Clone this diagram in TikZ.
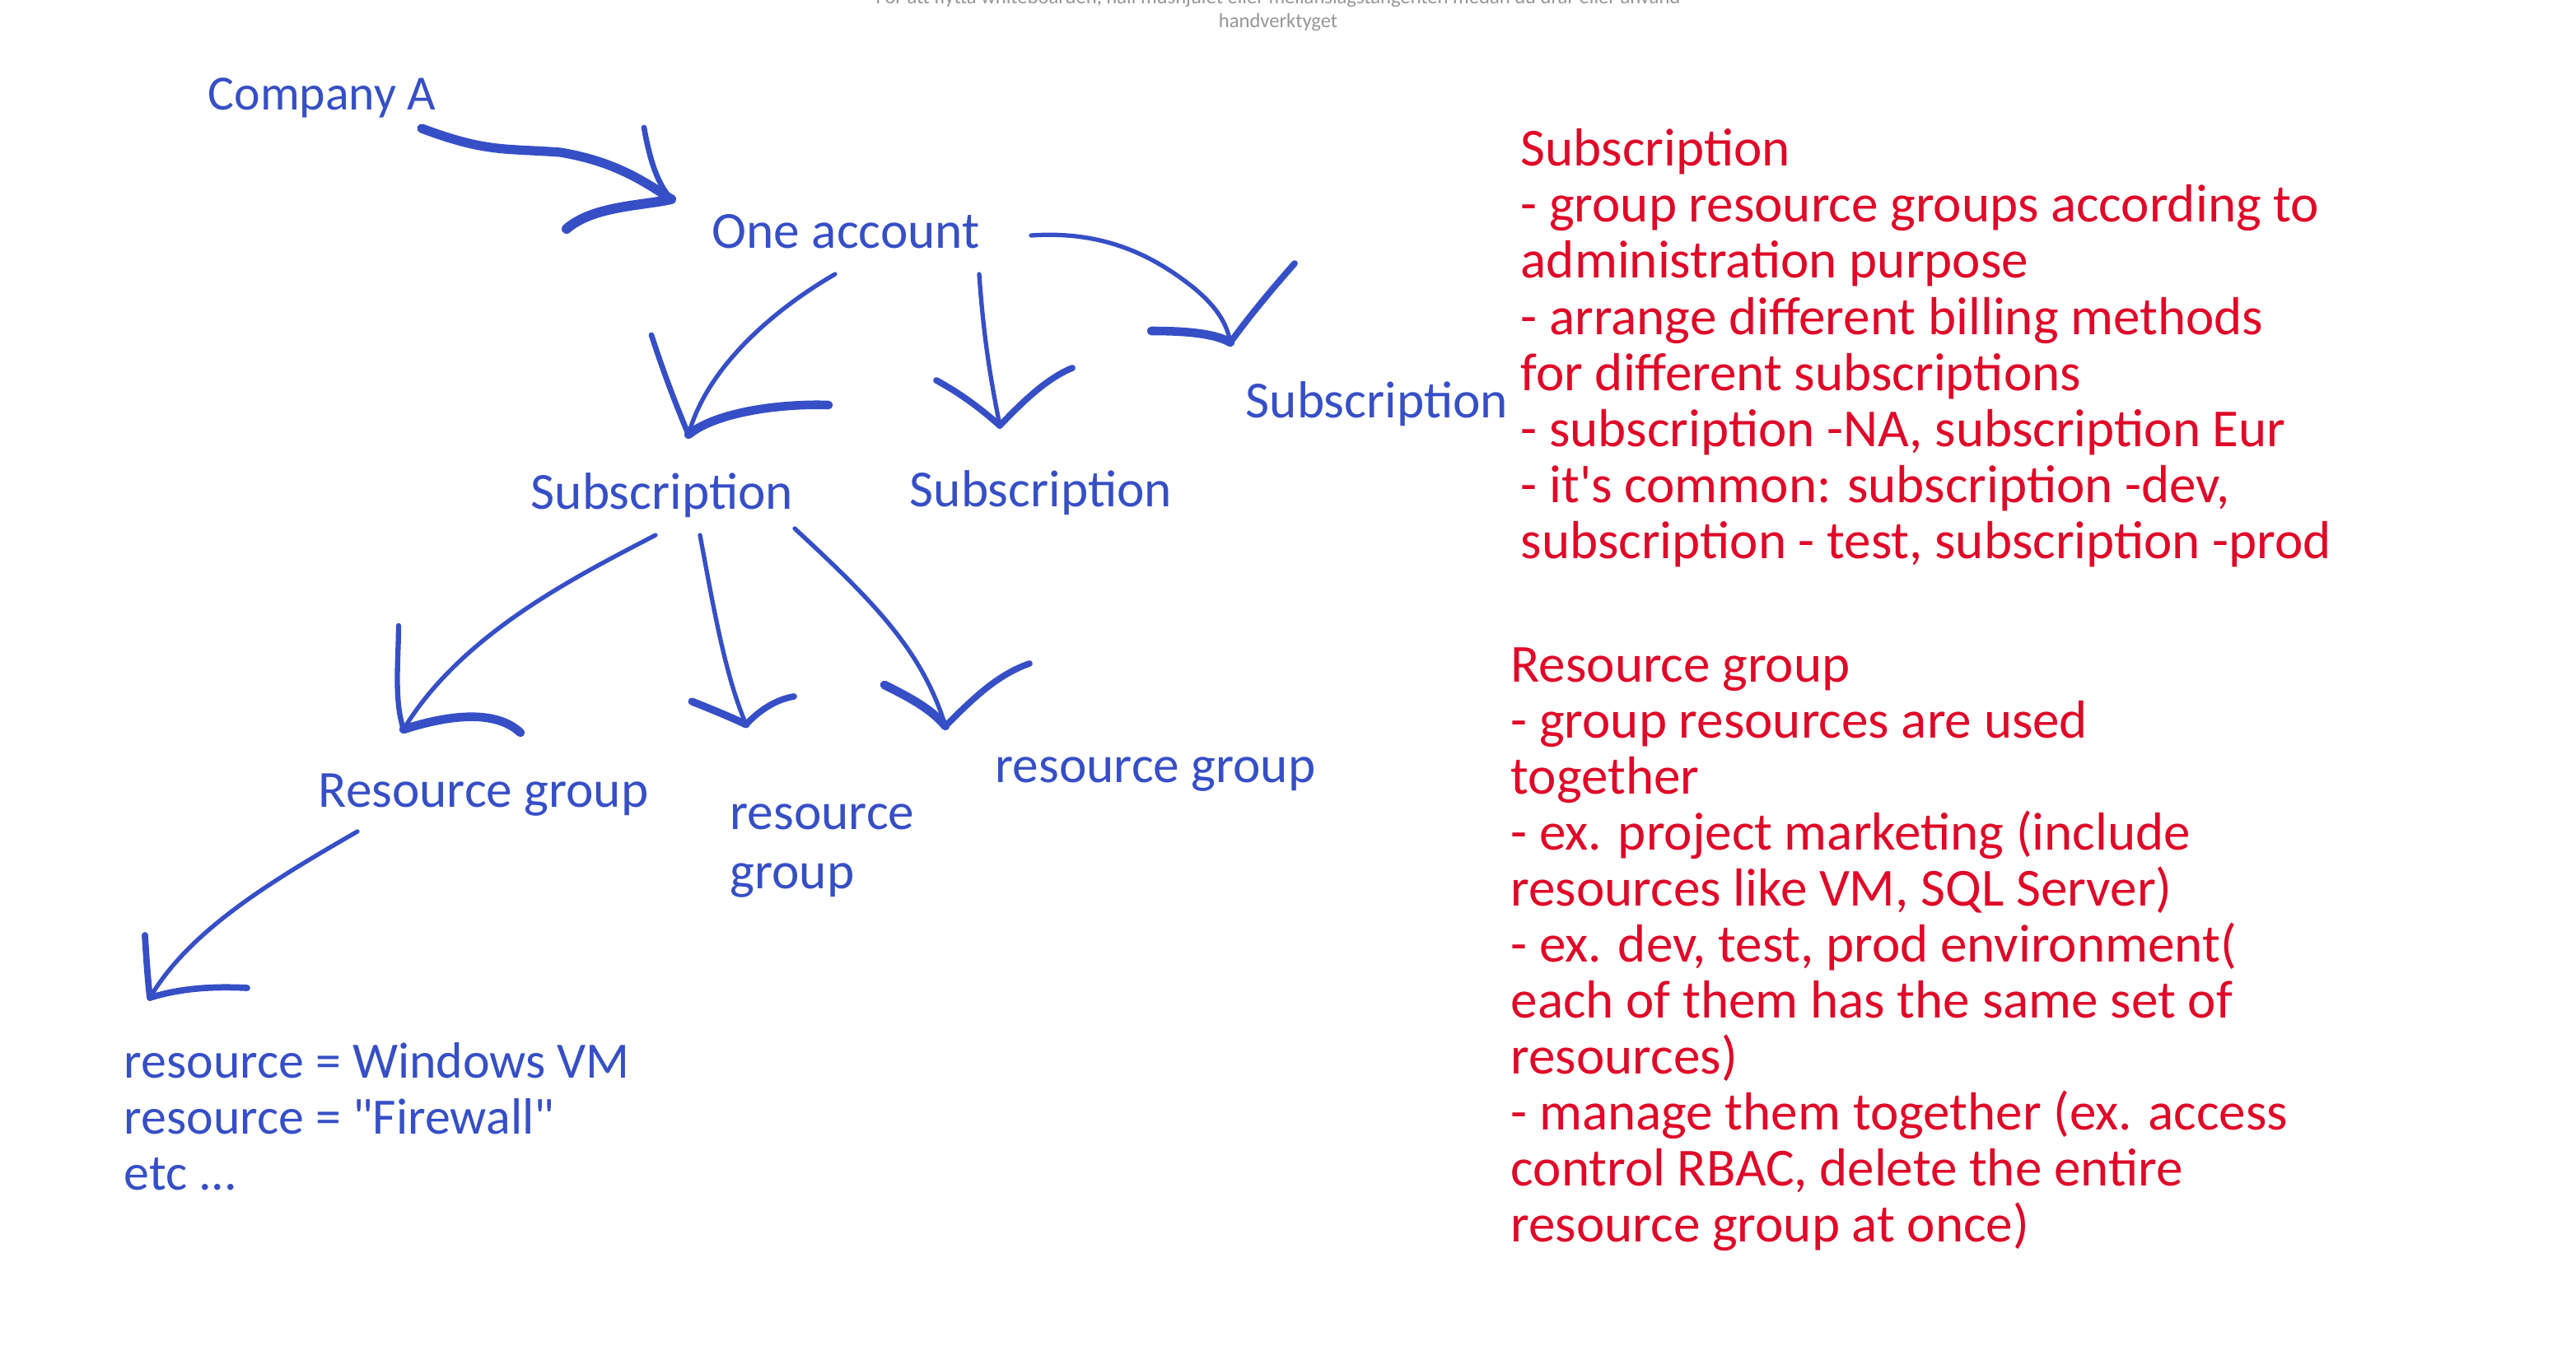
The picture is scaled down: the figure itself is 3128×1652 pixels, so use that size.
\documentclass[tikz,border=0pt]{standalone}
\usepackage{fontspec}
\setmainfont{Carlito}
\newfontfamily\inkfont{Carlito}
\definecolor{inkblue}{RGB}{54,79,199}
\definecolor{inkred}{RGB}{224,8,40}
\definecolor{hintgray}{RGB}{150,150,150}
\tikzset{
  lbl/.style={text=inkblue, inner sep=0pt, anchor=base west, font=\inkfont\fontsize{18}{20.5}\selectfont},
  note/.style={text=inkred, inner sep=0pt, anchor=north west, align=left, font=\inkfont\fontsize{18.5}{19.35}\selectfont},
  hint/.style={text=hintgray, inner sep=0pt, anchor=base, font=\inkfont\fontsize{7}{8}\selectfont},
  shaft/.style={draw=inkblue, line width=1.5pt, line cap=round, line join=round},
  headln/.style={draw=inkblue, line width=2.2pt, line cap=round, line join=round},
  headthick/.style={draw=inkblue, line width=3pt, line cap=round, line join=round}
}
\begin{document}
\begin{tikzpicture}[x=0.01cm, y=-0.01cm]
\useasboundingbox (0,0) rectangle (3128,1652);
\clip (0,0) rectangle (3128,1652);
\fill[white] (0,0) rectangle (3128,1652);

% hint text (cut at top, as in the reference)
\node[hint] (hint1) at (1552,5) {För att flytta whiteboarden, håll mushjulet eller mellanslagstangenten medan du drar eller använd};
\node[hint] (hint2) at (1552,34) {handverktyget};

% blue labels
\node[lbl, font=\inkfont\fontsize{17}{20}\selectfont] (company) at (252,134) {Company A};
\node[lbl] (account) at (864,302) {One account};
\node[lbl] (subR) at (1512,508) {Subscription};
\node[lbl] (subL) at (644,618) {Subscription};
\node[lbl] (subM) at (1104,615) {Subscription};
\node[lbl] (rgL) at (386,980) {Resource group};
\node[lbl] (rgM) at (886,1007) {resource};
\node[lbl] (rgM2) at (886,1079) {group};
\node[lbl] (rgR) at (1208,950) {resource group};
\node[lbl, anchor=north west, align=left, font=\inkfont\fontsize{17.6}{19.35}\selectfont] (res) at (150,1266) {resource = Windows VM\\resource = "Firewall"\\etc ...};

% red notes
\node[note] (noteSub) at (1846,156) {Subscription\\- group resource groups according to\\administration purpose\\- arrange different billing methods\\for different subscriptions\\- subscription -NA, subscription Eur\\- it's common: subscription -dev,\\subscription - test, subscription -prod};
\node[note] (noteRG) at (1834,786) {Resource group\\- group resources are used\\together\\- ex. project marketing (include\\resources like VM, SQL Server)\\- ex. dev, test, prod environment(\\each of them has the same set of\\resources)\\- manage them together (ex. access\\control RBAC, delete the entire\\resource group at once)};

% connector coordinates
\coordinate (a1s) at (512,156);  \coordinate (a1t) at (815,242);
\coordinate (a1h1) at (782,155); \coordinate (a1h2) at (688,278);
\coordinate (a2s) at (1014,333); \coordinate (a2t) at (836,528);
\coordinate (a2h1) at (791,407); \coordinate (a2h2) at (1006,492);
\coordinate (a3s) at (1189,333); \coordinate (a3t) at (1214,517);
\coordinate (a3h1) at (1137,462); \coordinate (a3h2) at (1302,447);
\coordinate (a4s) at (1252,286); \coordinate (a4t) at (1494,416);
\coordinate (a4h1) at (1398,402); \coordinate (a4h2) at (1572,320);
\coordinate (a5s) at (796,650);  \coordinate (a5t) at (490,886);
\coordinate (a5h1) at (484,760); \coordinate (a5h2) at (632,890);
\coordinate (a6s) at (850,650);  \coordinate (a6t) at (906,880);
\coordinate (a6h1) at (840,852); \coordinate (a6h2) at (964,846);
\coordinate (a7s) at (965,642);  \coordinate (a7t) at (1148,882);
\coordinate (a7h1) at (1074,832); \coordinate (a7h2) at (1250,806);
\coordinate (a8s) at (434,1010); \coordinate (a8t) at (182,1212);
\coordinate (a8h1) at (176,1136); \coordinate (a8h2) at (300,1200);

% A1 Company A -> One account
\draw[headthick, line width=3.2pt] (a1s) .. controls (590,185) and (610,180) .. (680,185) .. controls (740,195) and (775,215) .. (a1t);
\draw[headln, line width=1.9pt] (a1h1) .. controls (790,200) and (800,225) .. (a1t);
\draw[headthick, line width=3.4pt] (a1t) .. controls (780,250) and (720,250) .. (a1h2);

% A2 One account -> left Subscription
\draw[shaft] (a2s) .. controls (950,370) and (860,440) .. (a2t);
\draw[headln, line width=1.9pt] (a2h1) .. controls (805,450) and (820,490) .. (a2t);
\draw[headthick] (a2t) .. controls (870,500) and (950,490) .. (a2h2);

% A3 One account -> middle Subscription
\draw[shaft] (a3s) .. controls (1195,420) and (1205,470) .. (a3t);
\draw[headln] (a3h1) .. controls (1170,480) and (1195,500) .. (a3t);
\draw[headln] (a3t) .. controls (1240,490) and (1270,460) .. (a3h2);

% A4 One account -> right Subscription
\draw[shaft] (a4s) .. controls (1340,280) and (1400,310) .. (1450,350) .. controls (1480,375) and (1490,395) .. (a4t);
\draw[headthick] (a4h1) .. controls (1440,402) and (1475,405) .. (a4t);
\draw[headln] (a4t) .. controls (1520,380) and (1550,345) .. (a4h2);

% A5 Subscription -> Resource group
\draw[shaft] (a5s) .. controls (700,700) and (560,770) .. (a5t);
\draw[headln, line width=1.8pt] (a5h1) .. controls (484,800) and (478,850) .. (a5t);
\draw[headthick] (a5t) .. controls (540,870) and (600,860) .. (a5h2);

% A6 Subscription -> resource group (middle)
\draw[shaft] (a6s) .. controls (865,730) and (880,820) .. (a6t);
\draw[headthick, line width=2.6pt] (a6h1) .. controls (860,860) and (885,870) .. (a6t);
\draw[headln] (a6t) .. controls (920,865) and (940,850) .. (a6h2);

% A7 Subscription -> resource group (right)
\draw[shaft] (a7s) .. controls (1060,730) and (1120,790) .. (a7t);
\draw[headthick] (a7h1) .. controls (1100,845) and (1130,860) .. (a7t);
\draw[headln] (a7t) .. controls (1180,850) and (1210,820) .. (a7h2);

% A8 Resource group -> resources
\draw[shaft] (a8s) .. controls (330,1070) and (230,1130) .. (a8t);
\draw[headln] (a8h1) .. controls (178,1170) and (180,1195) .. (a8t);
\draw[headln] (a8t) .. controls (220,1200) and (260,1198) .. (a8h2);
\end{tikzpicture}
\end{document}
